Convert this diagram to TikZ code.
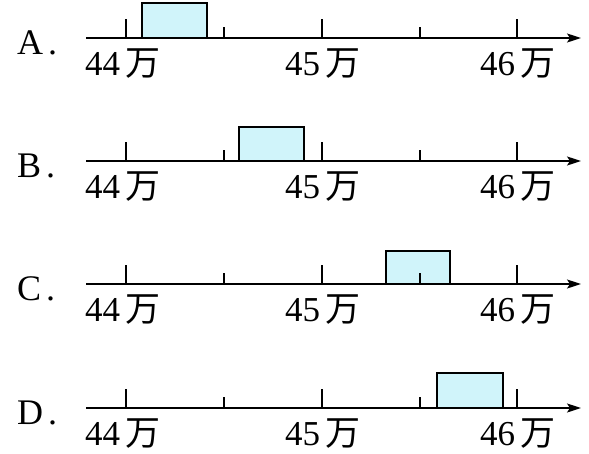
\documentclass[tikz,border=0pt]{standalone}
\usepackage{fontspec}
\setmainfont{Liberation Serif}
\newfontfamily\cjk{Noto Sans CJK SC}
\usetikzlibrary{arrows.meta}
\definecolor{boxfill}{RGB}{208,244,250}
\tikzset{
  axisline/.style={line width=1.6pt,-{Stealth[length=14pt,width=9pt,inset=3pt]}},
  majortick/.style={line width=1.2pt},
  minortick/.style={line width=1.2pt},
  valbox/.style={draw,line width=1.4pt,fill=boxfill},
  ticklabel/.style={font=\fontsize{35}{35}\selectfont, inner sep=0pt, anchor=base},
  rowlabel/.style={font=\fontsize{36}{36}\selectfont, inner sep=0pt, anchor=base west},
}
\begin{document}
\begin{tikzpicture}[x=1pt,y=-1pt]
\useasboundingbox (0,0) rectangle (589,453);
\foreach \r/\yy/\xa/\xb/\tp in {A/38/142/207/3, B/161/239/304/127, C/284/386/450/251, D/408/437/503/373} {
  \draw[valbox] (\xa,\tp) rectangle (\xb,\yy);
  \coordinate (s\r) at (86,\yy);
  \coordinate (e\r) at (581,\yy);
  \draw[axisline] (s\r) -- (e\r);
  \foreach \tx in {126,322,517} {
    \draw[majortick] (\tx,\yy) -- (\tx,\yy-19);
  }
  \foreach \tx in {224,420} {
    \draw[minortick] (\tx,\yy) -- (\tx,\yy-11);
  }
  \node[ticklabel] (l44\r) at (123,\yy+37) {44{\cjk\,万}};
  \node[ticklabel] (l45\r) at (323,\yy+37) {45{\cjk\,万}};
  \node[ticklabel] (l46\r) at (518,\yy+37) {46{\cjk\,万}};
  \node[rowlabel] (n\r) at (17,\yy+16) {\r\hspace{5pt}.};
}
\end{tikzpicture}
\end{document}
